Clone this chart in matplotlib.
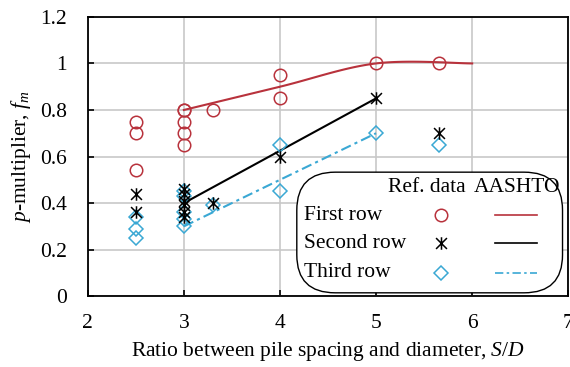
import numpy as np
import matplotlib.pyplot as plt
from matplotlib.patches import FancyBboxPatch
from matplotlib.lines import Line2D
from matplotlib.path import Path

plt.rcParams['font.family'] = ['Liberation Serif', 'DejaVu Serif']
plt.rcParams['mathtext.fontset'] = 'custom'
plt.rcParams['mathtext.rm'] = 'Liberation Serif'
plt.rcParams['mathtext.it'] = 'Liberation Serif:italic'

# reference data (S/D, p-multiplier)
first_x = [2.5, 2.5, 2.5, 3, 3, 3, 3, 3, 3.3, 4, 4, 5, 5.65]
first_y = [0.75, 0.70, 0.54, 0.80, 0.80, 0.75, 0.70, 0.65, 0.80, 0.95, 0.85, 1.00, 1.00]
second_x = [2.5, 2.5, 3, 3, 3, 3, 3, 3, 3.3, 4, 5, 5.65]
second_y = [0.44, 0.36, 0.46, 0.44, 0.41, 0.39, 0.36, 0.34, 0.40, 0.60, 0.85, 0.70]
third_x = [2.5, 2.5, 2.5, 3, 3, 3, 3, 3, 3.3, 4, 4, 5, 5.65]
third_y = [0.34, 0.29, 0.25, 0.45, 0.43, 0.36, 0.33, 0.30, 0.39, 0.65, 0.45, 0.70, 0.65]

# AASHTO curves
aashto1_x = [3, 4, 5, 6]
aashto1_y = [0.80, 0.90, 1.00, 1.00]
aashto2_x = [3, 5]
aashto2_y = [0.40, 0.85]
aashto3_x = [3, 5]
aashto3_y = [0.30, 0.70]

red = '#b8323c'
blue = '#3aa8d4'
fs = 15.5

# excel style star: X plus vertical bar
star = Path([(-1, -1), (1, 1), (-1, 1), (1, -1), (0, -1.15), (0, 1.15)],
            [Path.MOVETO, Path.LINETO, Path.MOVETO, Path.LINETO, Path.MOVETO, Path.LINETO])


def smooth(xs, ys, n=40):
    # excel-like smoothed line (catmull-rom)
    p = np.column_stack([xs, ys]).astype(float)
    p = np.vstack([p[0], p, p[-1]])
    out = []
    t = np.linspace(0, 1, n)[:, None]
    for i in range(1, len(p) - 2):
        p0, p1, p2, p3 = p[i - 1], p[i], p[i + 1], p[i + 2]
        seg = 0.5 * ((2 * p1) + (-p0 + p2) * t + (2 * p0 - 5 * p1 + 4 * p2 - p3) * t ** 2
                     + (-p0 + 3 * p1 - 3 * p2 + p3) * t ** 3)
        out.append(seg)
    out = np.vstack(out)
    return out[:, 0], out[:, 1]


fig = plt.figure(figsize=(5.70, 3.67), dpi=100)
ax = fig.add_axes([0.154, 0.193, 0.843, 0.761])

sx, sy = smooth(aashto1_x, aashto1_y)
ax.plot(sx, sy, color=red, lw=1.5, zorder=3)
ax.plot(aashto2_x, aashto2_y, color='black', lw=1.5, zorder=3)
ax.plot(aashto3_x, aashto3_y, color=blue, lw=1.5, ls=(0, (5, 2, 1.5, 2)), zorder=3)

ax.plot(first_x, first_y, 'o', ms=9, mfc='none', mec=red, mew=1.1, ls='none', zorder=4)
ax.plot(second_x, second_y, marker=star, ms=9, color='black', mew=1.1, ls='none', zorder=5)
ax.plot(third_x, third_y, 'D', ms=7, mfc='none', mec=blue, mew=1.1, ls='none', zorder=4)

ax.set_xlim(2, 7)
ax.set_ylim(0, 1.2)
ax.set_xticks([2, 3, 4, 5, 6, 7])
ax.set_yticks([0, 0.2, 0.4, 0.6, 0.8, 1.0, 1.2])
ax.set_yticklabels(['0', '0.2', '0.4', '0.6', '0.8', '1', '1.2'])
ax.grid(True, color='#c8c8c8', lw=1.2)
ax.set_axisbelow(True)
ax.tick_params(direction='in', length=4, width=1.2, labelsize=fs)
ax.tick_params(axis='y', pad=15)
ax.tick_params(axis='x', pad=13)
for s in ax.spines.values():
    s.set_linewidth(1.3)

ax.set_xlabel(r'Ratio between pile spacing and diameter, $S$/$D$', fontsize=fs, labelpad=5)
ax.set_ylabel(r'$p$-multiplier, $f_m$', fontsize=fs, labelpad=5)

# legend box
box = FancyBboxPatch((0.435, 0.012), 0.553, 0.432, boxstyle='round,pad=0,rounding_size=0.08',
                     transform=ax.transAxes, fc='white', ec='black', lw=1.0, zorder=6,
                     mutation_aspect=1.7)
ax.add_patch(box)
ax.text(0.705, 0.39, 'Ref. data', transform=ax.transAxes, ha='center', va='center', fontsize=fs, zorder=7)
ax.text(0.893, 0.39, 'AASHTO', transform=ax.transAxes, ha='center', va='center', fontsize=fs, zorder=7)
rows = ['First row', 'Second row', 'Third row']
ys = [0.29, 0.19, 0.083]
handles = [dict(marker='o', ms=9, mfc='none', mec=red, mew=1.1),
           dict(marker=star, ms=9, color='black', mew=1.1),
           dict(marker='D', ms=7, mfc='none', mec=blue, mew=1.1)]
lines = [dict(color=red, lw=1.2), dict(color='black', lw=1.2),
         dict(color=blue, lw=1.2, ls=(0, (5, 2, 1.5, 2)))]
for lab, y, h, l in zip(rows, ys, handles, lines):
    ax.text(0.45, y, lab, transform=ax.transAxes, ha='left', va='center', fontsize=fs, zorder=7)
    ax.add_line(Line2D([0.735], [y], transform=ax.transAxes, ls='none', zorder=7, **h))
    ax.add_line(Line2D([0.848, 0.935], [y, y], transform=ax.transAxes, zorder=7, **l))

fig.savefig('out.png', dpi=100)
